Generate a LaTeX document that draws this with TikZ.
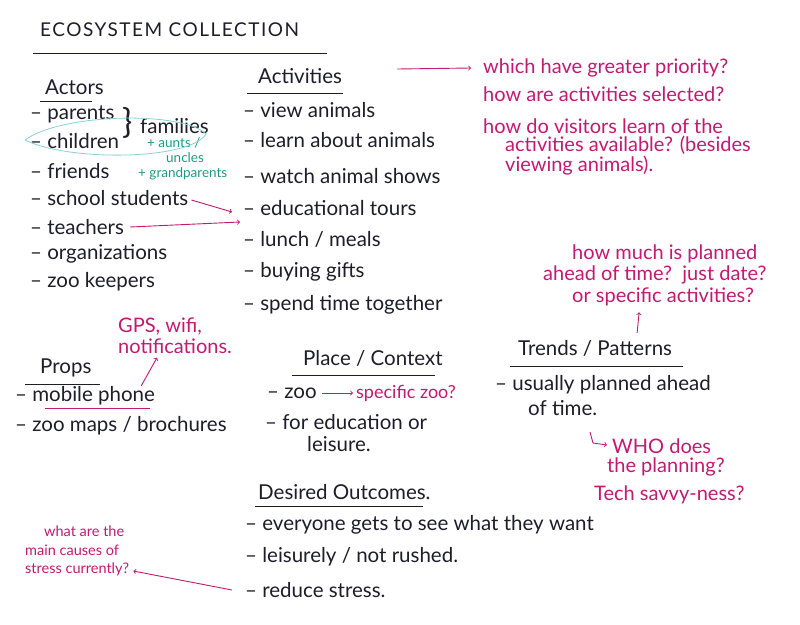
\documentclass[tikz,border=0pt]{standalone}
\usepackage{fontspec}
\setmainfont{Lato}
\usepackage{xcolor}
\usetikzlibrary{positioning}
\definecolor{inkblack}{HTML}{1E1E2A}
\definecolor{pen}{HTML}{C21A72}
\definecolor{greenpen}{HTML}{1F9A82}
\definecolor{cyanpen}{HTML}{8CCFD4}

\begin{document}
\begin{tikzpicture}[x=1pt,y=-1pt]
  \tikzstyle{blk}=[anchor=west,inner sep=0pt,text=inkblack,font=\fontsize{20.5}{24}\selectfont]
  \tikzstyle{note}=[blk,text=pen,font=\fontsize{20}{22}\selectfont]
  \tikzstyle{tiny}=[note,font=\fontsize{14.5}{16}\selectfont]
  \tikzstyle{grn}=[blk,text=greenpen,font=\fontsize{13.5}{14}\selectfont]
  \tikzstyle{rule}=[inkblack,line width=1pt]
  \tikzstyle{parrow}=[->,pen,line width=0.9pt]
  \useasboundingbox (0,0) rectangle (800,624);
  \fill[white] (0,0) rectangle (800,624);
  % title
  \node[blk,font=\fontsize{19}{22}\selectfont\addfontfeature{LetterSpace=8}](title) at (40,30) {ECOSYSTEM COLLECTION};
  \draw[rule] (33,53) -- (327,53);
  % actors
  \node[blk](actors) at (45,87) {Actors};
  \draw[rule] (40,101) -- (92,101);
  \node[blk](parents) at (30,114) {– parents};
  \node[blk](children) at (30,141) {– children};
  \node[blk](friends) at (30,171) {– friends};
  \node[blk](school) at (30,198) {– school students};
  \node[blk](teachers) at (30,227) {– teachers};
  \node[blk](orgs) at (30,254) {– organizations};
  \node[blk](keepers) at (30,282) {– zoo keepers};
  \node[blk,font=\fontsize{34}{34}\selectfont](brace) at (122,123) {\}};
  \node[blk](families) at (140,126) {families};
  \node[grn](aunts) at (147,143) {+ aunts /};
  \node[grn](uncles) at (166,158) {uncles};
  \node[grn](grand) at (138,174) {+ grandparents};
  \draw[cyanpen,line width=0.8pt] (25,140) .. controls (60,114) and (180,110) .. (206,134)
    .. controls (190,160) and (70,162) .. (25,140);
  % activities
  \node[blk](acts) at (258,76) {Activities};
  \draw[rule] (247,93) -- (343,93);
  \node[blk](view) at (243,110) {– view animals};
  \node[blk](learn) at (243,140) {– learn about animals};
  \node[blk](shows) at (243,176) {– watch animal shows};
  \node[blk](tours) at (243,208) {– educational tours};
  \node[blk](lunch) at (243,239) {– lunch / meals};
  \node[blk](gifts) at (243,272) {– buying gifts};
  \node[blk](spend) at (243,305) {– spend time together};
  \draw[parrow] ([xshift=3pt,yshift=-2pt]school.east) -- ([xshift=-11pt,yshift=-4pt]tours.west);
  \draw[parrow] ([xshift=6pt]teachers.east) -- ([xshift=-3pt,yshift=5pt]tours.west |- teachers.east);
  % questions on activities
  \node[note](prio) at (483,68) {which have greater priority?};
  \node[note](select) at (483,94) {how are activities selected?};
  \node[note](learnq) at (483,126) {how do visitors learn of the};
  \node[note](avail) at (505,145) {activities available? (besides};
  \node[note](viewing) at (505,166) {viewing animals).};
  \draw[parrow] ([xshift=55pt,yshift=7pt]acts.east) -- ([xshift=-12pt]prio.west);
  % props
  \node[blk](props) at (40,368) {Props};
  \draw[rule] (25,384) -- (100,384);
  \node[blk](phone) at (15,396) {– mobile phone};
  \draw[pen,line width=0.9pt] (45,408) -- (150,408);
  \node[note](gps) at (118,326) {GPS, wifi,};
  \node[note](notif) at (118,346) {notifications.};
  \node[blk](maps) at (15,426) {– zoo maps / brochures};
  \draw[parrow] ([xshift=-14pt,yshift=10pt]phone.east) -- ([xshift=-18pt,yshift=-4pt]notif.south);
  % place
  \node[blk](place) at (303,358) {Place / Context};
  \draw[rule] (292,375) -- (435,375);
  \node[blk](zoo) at (267,393) {– zoo};
  \node[note,font=\fontsize{18}{20}\selectfont](spec) at (356,393) {specific zoo?};
  \draw[parrow] ([xshift=5pt]zoo.east) -- ([xshift=-3pt]spec.west);
  \node[blk](edu) at (265,422) {– for education or};
  \node[blk](leisure) at (307,444) {leisure.};
  % trends
  \node[note](howmuch) at (572,254) {how much is planned};
  \node[note](ahead) at (543,275) {ahead of time?\ \ just date?};
  \node[note](orspec) at (572,297) {or specific activities?};
  \node[blk](trends) at (518,348) {Trends / Patterns};
  \draw[rule] (510,366) -- (683,366);
  \draw[parrow] ([xshift=42pt,yshift=7pt]trends.north) -- ([xshift=-24pt,yshift=-6pt]orspec.south);
  \node[blk](usually) at (495,385) {– usually planned ahead};
  \node[blk](oftime) at (528,408) {of time.};
  \node[note](who) at (612,446) {WHO does};
  \node[note](plan) at (607,467) {the planning?};
  \node[note](tech) at (594,495) {Tech savvy-ness?};
  \draw[parrow] ([xshift=-22pt,yshift=14pt]who.west) -- ++(3,11) -- ([xshift=-5pt,yshift=1pt]who.west);
  % outcomes
  \node[blk](desired) at (258,492) {Desired Outcomes.};
  \draw[rule] (255,506) -- (423,506);
  \node[blk](everyone) at (245,525) {– everyone gets to see what they want};
  \node[blk](leisurely) at (245,557) {– leisurely / not rushed.};
  \node[blk](reduce) at (245,590) {– reduce stress.};
  \node[tiny](whatq) at (44,531) {what are the};
  \node[tiny](causes) at (25,550) {main causes of};
  \node[tiny](stressq) at (25,569) {stress currently?};
  \draw[parrow] ([xshift=-13pt]reduce.west) -- ([xshift=4pt,yshift=-2pt]stressq.east);
\end{tikzpicture}
\end{document}
